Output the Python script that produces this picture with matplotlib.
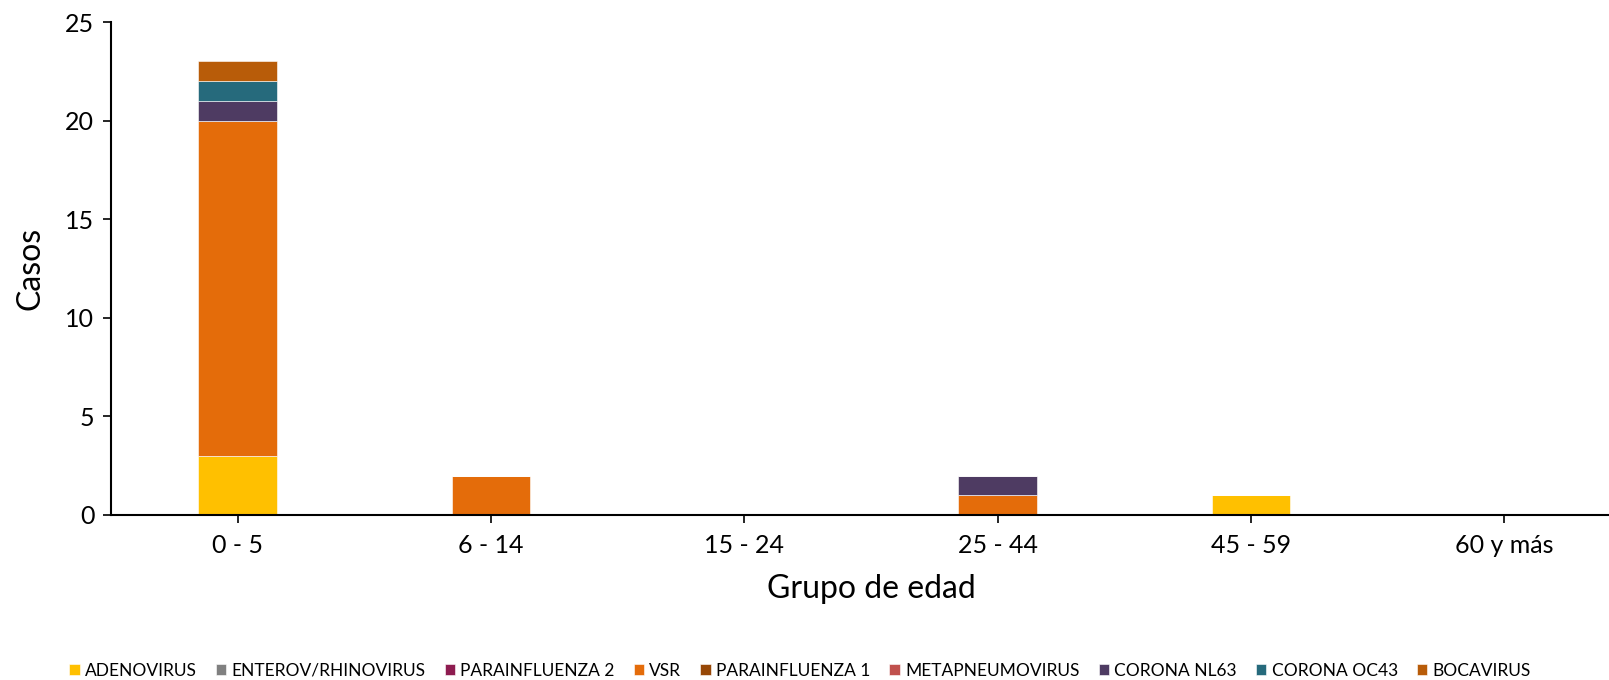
import numpy as np
import matplotlib.pyplot as plt

grupos = ['0 - 5', '6 - 14', '15 - 24', '25 - 44', '45 - 59', '60 y más']
virus = ['ADENOVIRUS', 'ENTEROV/RHINOVIRUS', 'PARAINFLUENZA 2', 'VSR', 'PARAINFLUENZA 1',
         'METAPNEUMOVIRUS', 'CORONA NL63', 'CORONA OC43', 'BOCAVIRUS']
colores = ['#FFC000', '#808080', '#8E1C50', '#E46C0A', '#974706',
           '#C0504D', '#4E3B62', '#266A7C', '#B85C09']

adenovirus = [3, 0, 0, 0, 1, 0]
enterov = [0, 0, 0, 0, 0, 0]
parainf2 = [0, 0, 0, 0, 0, 0]
vsr = [17, 2, 0, 1, 0, 0]
parainf1 = [0, 0, 0, 0, 0, 0]
metapneumo = [0, 0, 0, 0, 0, 0]
corona_nl63 = [1, 0, 0, 1, 0, 0]
corona_oc43 = [1, 0, 0, 0, 0, 0]
bocavirus = [1, 0, 0, 0, 0, 0]

series = [adenovirus, enterov, parainf2, vsr, parainf1, metapneumo,
          corona_nl63, corona_oc43, bocavirus]

plt.rcParams['font.family'] = ['Lato', 'DejaVu Sans']

fig = plt.figure(figsize=(16.09, 6.80), dpi=100)
ax = fig.add_axes([111 / 1609, 1 - 515 / 680, (1631 - 111) / 1609, (515 - 22) / 680])

x = np.arange(len(grupos))
bottom = np.zeros(len(grupos))
for nombre, vals, c in zip(virus, series, colores):
    vals = np.array(vals, dtype=float)
    ax.bar(x, vals, 0.31, bottom=bottom, color=c, label=nombre,
           edgecolor='white', linewidth=0.4)
    bottom += vals

ax.set_xlim(-0.5, 5.5)
ax.set_ylim(0, 25)
ax.set_yticks(range(0, 26, 5))
ax.set_xticks(x)
ax.set_xticklabels(grupos)
ax.tick_params(axis='both', labelsize=18, length=6, width=1.2, direction='out')
ax.tick_params(axis='y', pad=6)
ax.tick_params(axis='x', pad=8)
for s in ['top', 'right']:
    ax.spines[s].set_visible(False)
for s in ['left', 'bottom']:
    ax.spines[s].set_linewidth(1.5)

ax.set_ylabel('Casos', fontsize=23, labelpad=14)
ax.set_xlabel('Grupo de edad', fontsize=23, labelpad=12)

fig.legend(loc='center', bbox_to_anchor=(800 / 1609, 1 - 671 / 680), ncol=9,
           frameon=False, fontsize=12.5, handlelength=0.6, handleheight=0.6,
           handletextpad=0.3, columnspacing=1.1)

fig.savefig('out.png', dpi=100)
